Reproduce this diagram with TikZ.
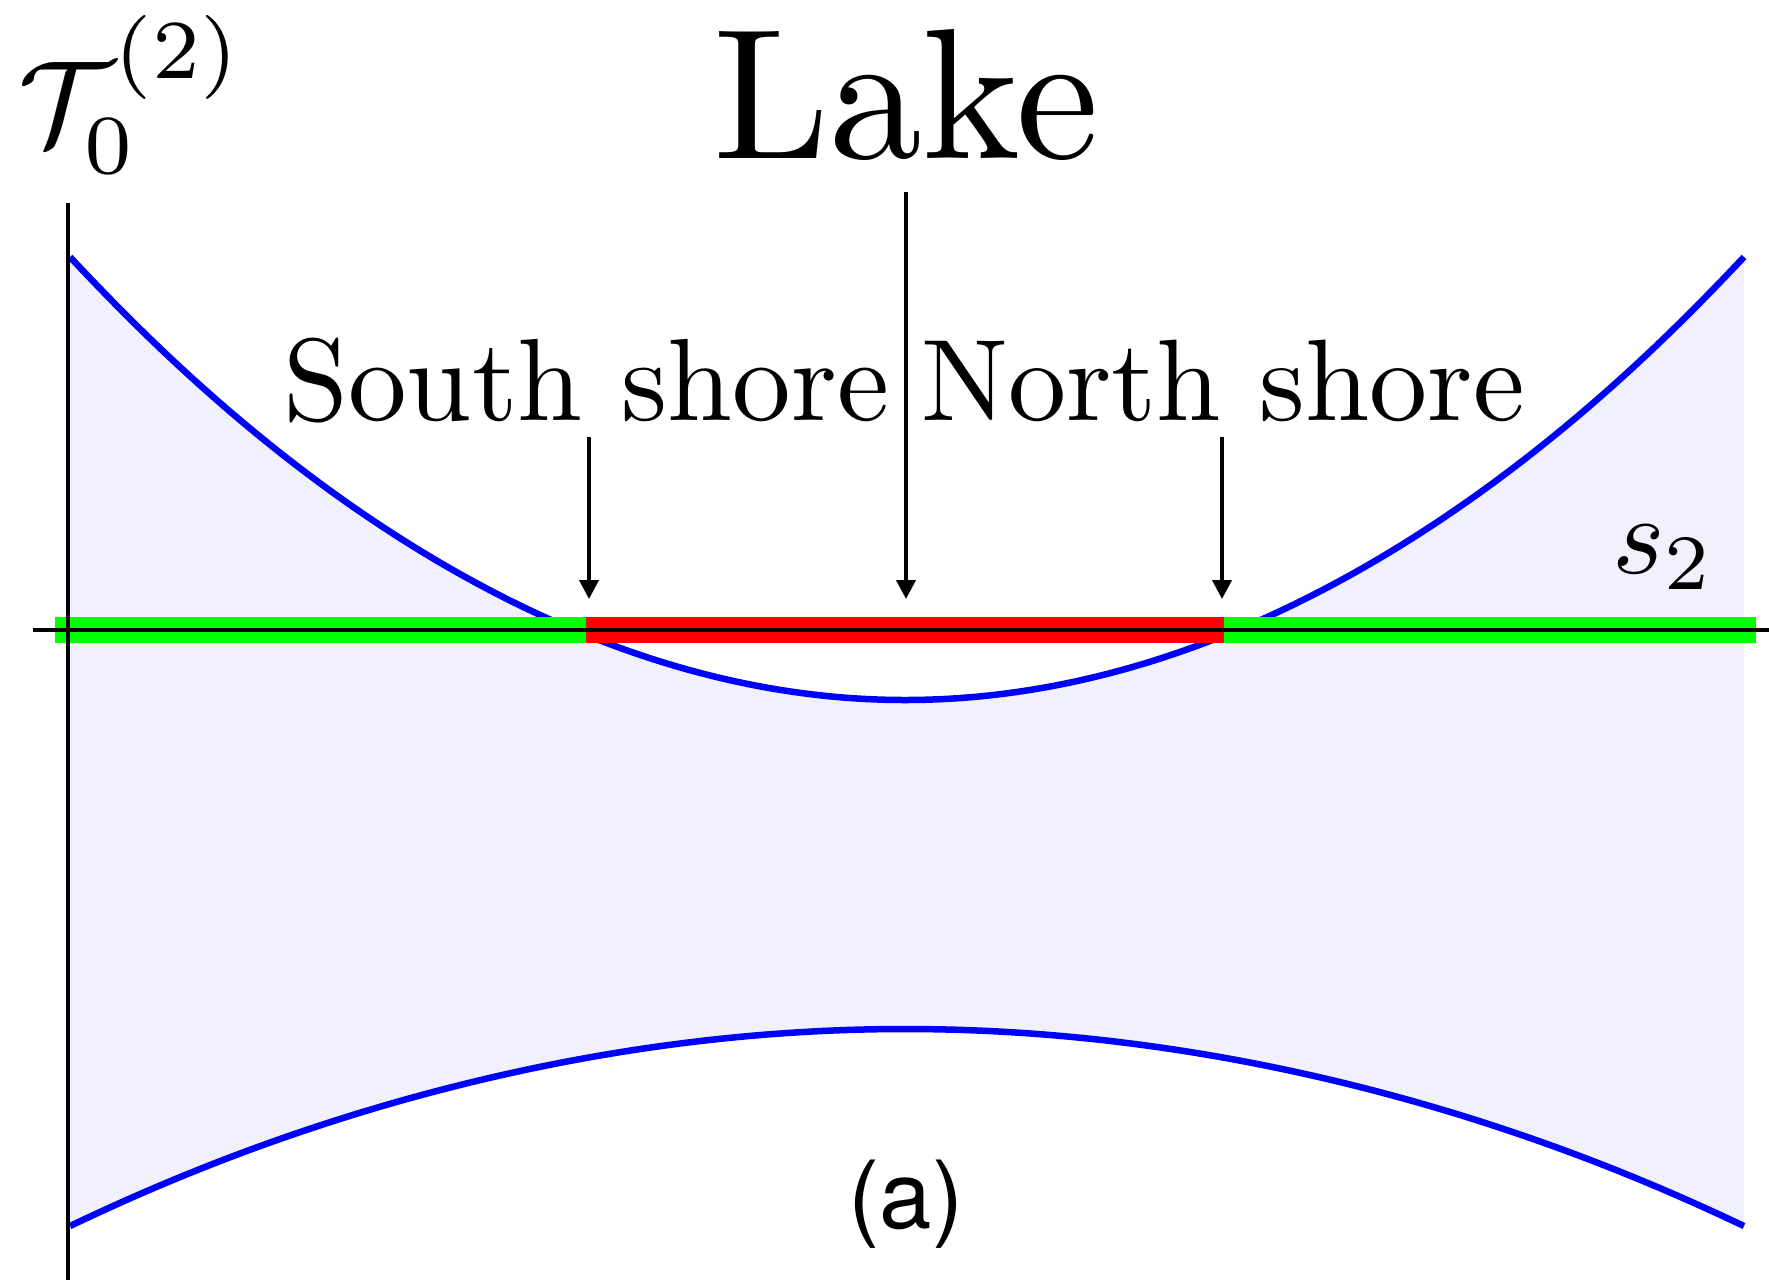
\documentclass[tikz,border=0pt]{standalone}
\usepackage{fontspec}
\newfontfamily\helv{TeX Gyre Heros}
\usetikzlibrary{arrows.meta}
\definecolor{lakeshade}{RGB}{241,241,253}
\definecolor{shoregreen}{RGB}{0,255,0}
\definecolor{lakered}{RGB}{255,0,0}
\definecolor{curveblue}{RGB}{0,0,255}
\tikzset{
  axisline/.style={draw=black,line width=4pt},
  curveline/.style={draw=curveblue,line width=6.5pt},
  pointer/.style={draw=black,line width=4pt,-{Triangle[length=19pt,width=19pt]}},
  lbl/.style={inner sep=0pt,outer sep=0pt},
}
\begin{document}
\begin{tikzpicture}[x=1pt,y=-1pt]
\useasboundingbox (0,0) rectangle (1769,1280);
% shaded region between the curves
\fill[lakeshade] (68,257) parabola bend (905,700) (1744,257) -- (1744,1226)
   parabola bend (905,1029) (68,1226) -- cycle;
% curves
\draw[curveline] (70,257) parabola bend (905,700) (1744,257);
\draw[curveline] (70,1226) parabola bend (905,1029) (1744,1226);
% bands
\fill[shoregreen] (55,617) rectangle (1756,643);
\fill[lakered] (586,617) rectangle (1224,643);
% axes
\coordinate (xl) at (33,630);
\coordinate (xr) at (1769,630);
\coordinate (yt) at (68,203);
\coordinate (yb) at (68,1280);
\draw[axisline] (xl) -- (xr);
\draw[axisline] (yt) -- (yb);
% labels
\node[lbl,anchor=base] (lake) at (906,158) {\scalebox{18.6}{Lake}};
\node[lbl,anchor=base east] (south) at (889,420) {\scalebox{11.7}{South shore}};
\node[lbl,anchor=base west] (north) at (921,420) {\scalebox{11.6}{North shore}};
\node[lbl,anchor=base west] (s2) at (1612,573) {\scalebox{11.2}{$s_2$}};
\node[lbl,anchor=base west] (tau) at (19,144) {\scalebox{12}{$\displaystyle\mathcal{T}_{0}^{\raisebox{1.3pt}{$\scriptstyle(2)$}}$}};
\node[lbl,anchor=base] (panel) at (906,1228) {\scalebox{9.4}{\helv (a)}};
% arrows
\coordinate (a1s) at (589,437);
\coordinate (a1e) at (589,599);
\coordinate (a2s) at (906,192);
\coordinate (a2e) at (906,599);
\coordinate (a3s) at (1222,437);
\coordinate (a3e) at (1222,599);
\draw[pointer] (a1s) -- (a1e);
\draw[pointer] (a2s) -- (a2e);
\draw[pointer] (a3s) -- (a3e);
\end{tikzpicture}
\end{document}
